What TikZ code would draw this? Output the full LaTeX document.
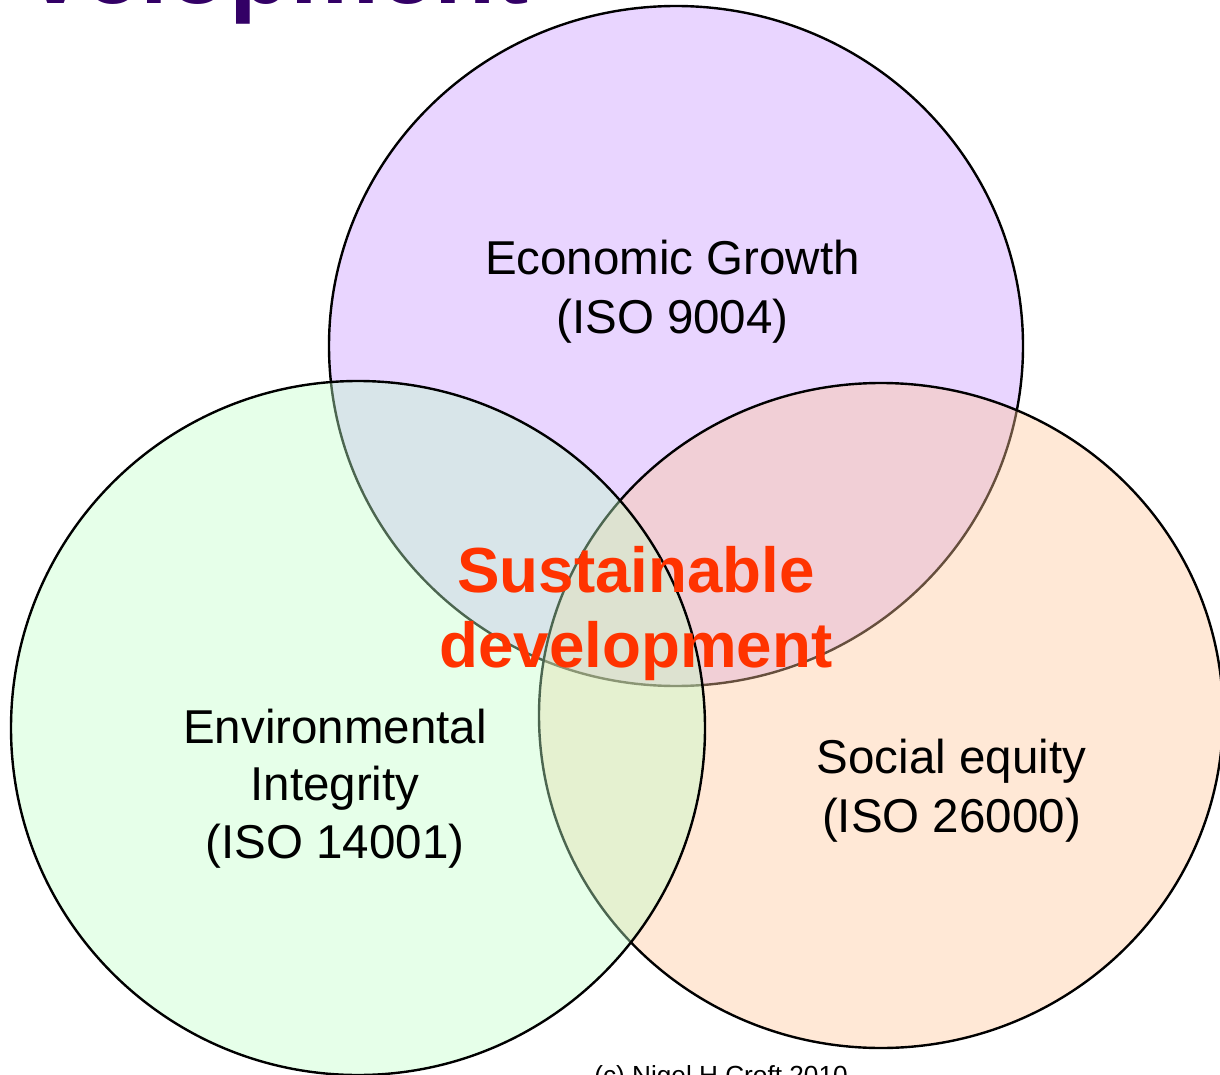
\documentclass[tikz,border=0pt]{standalone}
\usepackage{fontspec}
\setmainfont{Liberation Sans}
\definecolor{econfill}{HTML}{E9D5FF}
\definecolor{socfill}{RGB}{255,198,153}
\definecolor{envfill}{RGB}{192,255,200}
\definecolor{sdred}{HTML}{FF3300}
\definecolor{titleviolet}{HTML}{330066}
\begin{document}
\begin{tikzpicture}[x=0.5pt,y=-0.5pt,
  ring/.style={draw=black,line width=1.2pt},
  lbl/.style={anchor=base,inner sep=0pt,font=\fontsize{23.75pt}{29pt}\selectfont},
  core/.style={anchor=base,inner sep=0pt,text=sdred,font=\fontsize{31.85pt}{37.5pt}\selectfont\bfseries}]
\useasboundingbox (0,0) rectangle (1220,1075);
\clip (0,0) rectangle (1220,1075);

% heading text running off the top edge
\node[anchor=base,inner sep=0pt,text=titleviolet,
      font=\fontsize{50pt}{60pt}\selectfont\bfseries] (title) at (279,4) {velopment};

% the three pillars, drawn bottom to top
\path[ring,fill=econfill] (676,346) ellipse [x radius=347,y radius=340];
\path[ring,fill=socfill,fill opacity=0.4] (881,715.5) ellipse [x radius=342,y radius=332.5];
\path[ring,fill=envfill,fill opacity=0.4] (358,728) circle [radius=347];

% pillar labels
\node[lbl] (econ1) at (672.5,274) {Economic Growth};
\node[lbl] (econ2) at (672.5,333) {(ISO 9004)};
\node[lbl] (env1) at (335,743) {Environmental};
\node[lbl] (env2) at (335,800) {Integrity};
\node[lbl] (env3) at (335,858) {(ISO 14001)};
\node[lbl] (soc1) at (951.5,773) {Social equity};
\node[lbl] (soc2) at (951.5,832) {(ISO 26000)};

% centre label
\node[core] (sd1) at (636,592) {Sustainable};
\node[core] (sd2) at (636,667) {development};

% credit line
\node[anchor=base,inner sep=0pt,font=\fontsize{13.1pt}{15pt}\selectfont] (credit) at (721,1084) {(c) Nigel H Croft 2010};
\end{tikzpicture}
\end{document}
